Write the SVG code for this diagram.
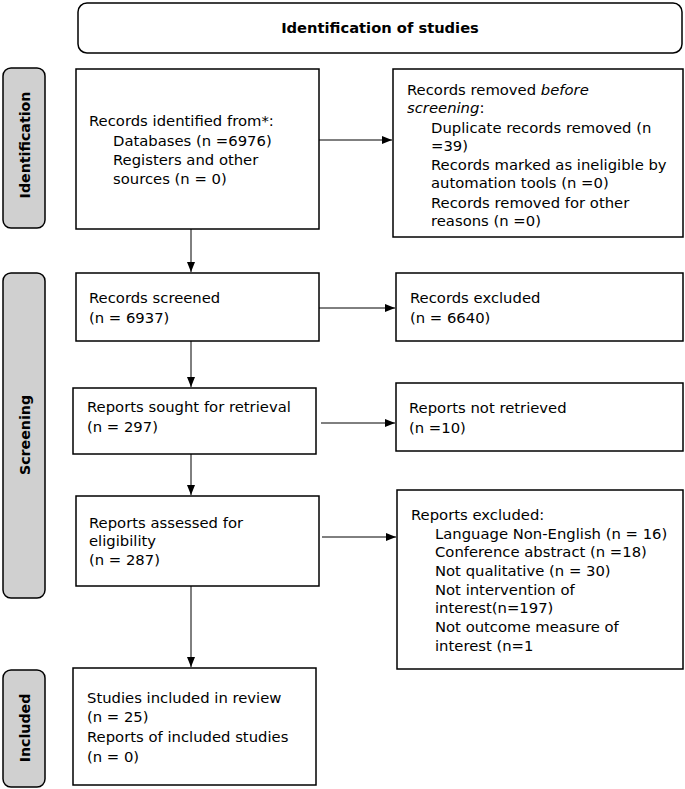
<svg xmlns="http://www.w3.org/2000/svg" width="685" height="789" viewBox="0 0 685 789">
<style>
.box{fill:#fff;stroke:#000;stroke-width:1.5}
.side{fill:#d0d0d0;stroke:#000;stroke-width:1.5}
.t{font-family:"DejaVu Sans",Verdana,sans-serif;font-size:14.8px;fill:#000}
.b{font-family:"DejaVu Sans",Verdana,sans-serif;font-size:14.7px;font-weight:bold;fill:#000}
.s{font-family:"DejaVu Sans",Verdana,sans-serif;font-size:14.2px;font-weight:bold;fill:#000}
.c{stroke:#000;stroke-width:1;fill:none;marker-end:url(#ah)}
</style>
<defs>
<marker id="ah" viewBox="0 0 10 10" refX="10" refY="5" markerWidth="10" markerHeight="10" markerUnits="userSpaceOnUse" orient="auto">
<path d="M0,1 L10,5 L0,9 z" fill="#000"/>
</marker>
</defs>
<rect width="685" height="789" fill="#fff"/>
<g id="title">
<rect class="box" x="78" y="3" width="604" height="50" rx="9"/>
<text class="b" x="380" y="33" text-anchor="middle">Identification of studies</text>
</g>
<g id="side-identification">
<rect class="side" x="3" y="68" width="42" height="160" rx="8"/>
<text class="s" transform="translate(30,145) rotate(-90)" text-anchor="middle">Identification</text>
</g>
<g id="side-screening">
<rect class="side" x="3" y="273" width="42" height="325" rx="8"/>
<text class="s" transform="translate(30,435) rotate(-90)" text-anchor="middle">Screening</text>
</g>
<g id="side-included">
<rect class="side" x="3" y="670" width="42" height="117" rx="8"/>
<text class="s" transform="translate(30,728) rotate(-90)" text-anchor="middle">Included</text>
</g>
<g id="connectors">
<path class="c" d="M319,140 H392"/>
<path class="c" d="M191,229 V272"/>
<path class="c" d="M319,308 H395"/>
<path class="c" d="M191,341 V387"/>
<path class="c" d="M321,423 H395"/>
<path class="c" d="M191,454 V495"/>
<path class="c" d="M322,537 H396"/>
<path class="c" d="M191,586 V667"/>
</g>
<g id="records-identified">
<rect class="box" x="76" y="69" width="243" height="160"/>
<text class="t" x="89" y="126">Records identified from*:</text>
<text class="t" x="113" y="145.5">Databases (n =6976)</text>
<text class="t" x="113" y="165">Registers and other</text>
<text class="t" x="113" y="184">sources (n = 0)</text>
</g>
<g id="records-removed">
<rect class="box" x="393" y="69" width="290" height="168"/>
<text class="t" x="407" y="95">Records removed <tspan font-style="italic">before</tspan></text>
<text class="t" x="407" y="113"><tspan font-style="italic">screening</tspan>:</text>
<text class="t" x="431" y="133">Duplicate records removed (n</text>
<text class="t" x="431" y="151">=39)</text>
<text class="t" x="431" y="170">Records marked as ineligible by</text>
<text class="t" x="431" y="188">automation tools (n =0)</text>
<text class="t" x="431" y="208">Records removed for other</text>
<text class="t" x="431" y="226">reasons (n =0)</text>
</g>
<g id="records-screened">
<rect class="box" x="76" y="273" width="243" height="68"/>
<text class="t" x="89" y="303">Records screened</text>
<text class="t" x="89" y="323">(n = 6937)</text>
</g>
<g id="records-excluded">
<rect class="box" x="396" y="273" width="287" height="68"/>
<text class="t" x="410" y="303">Records excluded</text>
<text class="t" x="410" y="323">(n = 6640)</text>
</g>
<g id="reports-sought">
<rect class="box" x="73" y="388" width="243" height="66"/>
<text class="t" x="87" y="412">Reports sought for retrieval</text>
<text class="t" x="87" y="432">(n = 297)</text>
</g>
<g id="reports-not-retrieved">
<rect class="box" x="396" y="383" width="287" height="68"/>
<text class="t" x="409" y="413">Reports not retrieved</text>
<text class="t" x="409" y="433">(n =10)</text>
</g>
<g id="reports-assessed">
<rect class="box" x="76" y="496" width="243" height="90"/>
<text class="t" x="89" y="528">Reports assessed for</text>
<text class="t" x="89" y="546">eligibility</text>
<text class="t" x="89" y="565">(n = 287)</text>
</g>
<g id="reports-excluded">
<rect class="box" x="397" y="490" width="286" height="179"/>
<text class="t" x="411" y="520">Reports excluded:</text>
<text class="t" x="435" y="539">Language Non-English (n = 16)</text>
<text class="t" x="435" y="557">Conference abstract (n =18)</text>
<text class="t" x="435" y="576">Not qualitative (n = 30)</text>
<text class="t" x="435" y="595">Not intervention of</text>
<text class="t" x="435" y="613">interest(n=197)</text>
<text class="t" x="435" y="632">Not outcome measure of</text>
<text class="t" x="435" y="651">interest (n=1</text>
</g>
<g id="studies-included">
<rect class="box" x="73" y="668" width="243" height="117"/>
<text class="t" x="87" y="703">Studies included in review</text>
<text class="t" x="87" y="722">(n = 25)</text>
<text class="t" x="87" y="742">Reports of included studies</text>
<text class="t" x="87" y="762">(n = 0)</text>
</g>
</svg>
